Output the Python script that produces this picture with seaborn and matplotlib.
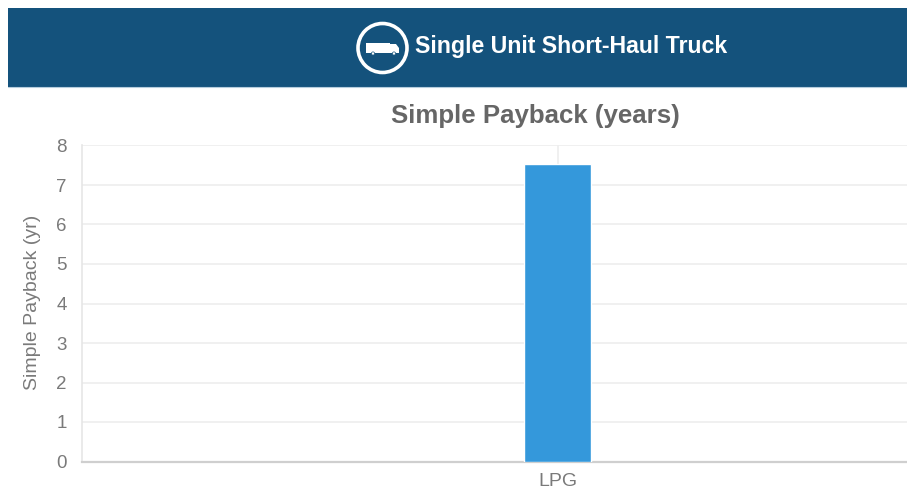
import matplotlib
matplotlib.use("Agg")
import matplotlib.pyplot as plt
import matplotlib.patches as mpatches
import pandas as pd
import seaborn as sns

# values
categories = ["LPG"]
payback = [7.54]
y_ticks = [0, 1, 2, 3, 4, 5, 6, 7, 8]

W, H = 907, 490
GREY = "#666666"
TICK_GREY = "#7a7a7a"

sns.set_theme(style="white")
plt.rcParams["font.family"] = ["Liberation Sans", "DejaVu Sans"]

df = pd.DataFrame({"fuel": categories, "payback": payback})

fig = plt.figure(figsize=(W / 100, H / 100), dpi=100, facecolor="white")

# chart is cut off on the right, so the axes runs past the figure edge
ax = fig.add_axes([82 / W, 1 - 461.5 / H, 951 / W, 316 / H])
sns.barplot(data=df, x="fuel", y="payback", color="#3498db", saturation=1,
            width=0.0695, ax=ax, zorder=3)
ax.set_xlim(-0.5, 0.5)
ax.set_ylim(0, 8)
ax.set_yticks(y_ticks)
ax.grid(True, color="#eeeeee", linewidth=1.2, zorder=0)
ax.set_axisbelow(True)
for side in ["top", "right"]:
    ax.spines[side].set_visible(False)
ax.spines["left"].set_color("#e6e6e6")
ax.spines["left"].set_linewidth(1.2)
ax.spines["bottom"].set_color("#cfcfcf")
ax.spines["bottom"].set_linewidth(1.6)
ax.tick_params(axis="y", length=10, color="#e8e8e8", width=1.2, pad=1,
               labelsize=13.5, labelcolor=TICK_GREY)
ax.tick_params(axis="x", length=6, color="#eeeeee", width=1.2, pad=2, labelsize=14,
               labelcolor=TICK_GREY)
ax.set_xlabel("")
ax.set_ylabel("")
fig.text(33 / W, 1 - 302.5 / H, "Simple Payback (yr)", rotation=90, ha="center",
         va="center", fontsize=14, color=TICK_GREY)
fig.text(535 / W, 1 - 116.5 / H, "Simple Payback (years)", ha="center", va="center",
         fontsize=18.6, fontweight="bold", color=GREY)

# header band with the truck badge
head = fig.add_axes([8 / W, 1 - 87 / H, (W - 8) / W, 79 / H])
head.set_xlim(8, W)
head.set_ylim(87, 8)
head.set_facecolor("#14527c")
head.set_xticks([])
head.set_yticks([])
for s in head.spines.values():
    s.set_visible(False)
head.add_patch(mpatches.Circle((382.5, 48), 24.5, fill=False, ec="white", lw=2.6))
head.add_patch(mpatches.Rectangle((366, 43), 24, 10, fc="white", ec="none"))
head.add_patch(mpatches.Polygon([(390, 44), (396, 44), (399, 48), (399, 53), (390, 53)],
                                fc="white", ec="none"))
head.add_patch(mpatches.Circle((373, 53.5), 1.6, fc="white", ec="#14527c", lw=0.5))
head.add_patch(mpatches.Circle((394, 53.5), 1.6, fc="white", ec="#14527c", lw=0.5))
head.text(415, 46, "Single Unit Short-Haul Truck", ha="left", va="center",
          fontsize=16.7, fontweight="bold", color="white")
# thin pale edge under the band
fig.add_artist(plt.Line2D([8 / W, 1], [1 - 87.5 / H] * 2, color="#b5cddd", lw=0.8))

fig.savefig("out.png", dpi=100)
